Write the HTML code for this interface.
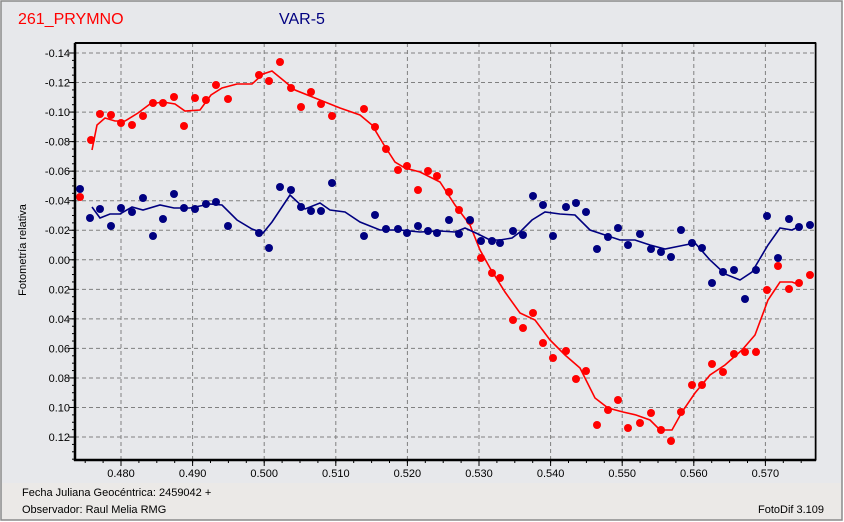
<!DOCTYPE html>
<html><head><meta charset="utf-8"><style>
body{margin:0;background:#fff;}
svg{display:block;font-family:"Liberation Sans",sans-serif;}
</style></head><body>
<svg width="844" height="522" viewBox="0 0 844 522" xmlns="http://www.w3.org/2000/svg">
<rect x="0" y="0" width="844" height="522" fill="#ffffff"/>
<rect x="1" y="1" width="841" height="519" fill="#e7e8eb" stroke="#8a8a8a" stroke-width="1.5"/>
<rect x="2" y="483" width="839" height="36" fill="#ebe9e7"/>
<text x="18" y="24" font-size="16" fill="#ff0000">261_PRYMNO</text>
<text x="279" y="24" font-size="16" fill="#000080">VAR-5</text>
<text transform="translate(26,250) rotate(-90)" font-size="11" text-anchor="middle" fill="#000">Fotometría relativa</text>
<g stroke="#808080" stroke-width="1" stroke-dasharray="4,3" fill="none" id="grid"></g>
<g id="ticks" stroke="#000" stroke-width="1"></g>
<g id="labels" font-size="11" fill="#000"></g>
<polyline id="rl" fill="none" stroke="#ff0000" stroke-width="1.6"/>
<polyline id="bl" fill="none" stroke="#000080" stroke-width="1.6"/>
<g id="rp" fill="#ff0000"></g>
<g id="bp" fill="#000080"></g>
<rect x="75" y="43" width="741" height="417" fill="none" stroke="#000" stroke-width="1"/>
<line x1="75" y1="43" x2="75" y2="461" stroke="#000" stroke-width="2.5"/>
<line x1="74" y1="460" x2="816" y2="460" stroke="#000" stroke-width="2.5"/>
<line x1="75" y1="43" x2="816" y2="43" stroke="#000" stroke-width="2"/>
<line x1="815.5" y1="43" x2="815.5" y2="460" stroke="#000" stroke-width="1.5"/>
<text x="22" y="496" font-size="11" fill="#000">Fecha Juliana Geocéntrica: 2459042 +</text>
<text x="22" y="513" font-size="11" fill="#000">Observador: Raul Melia RMG</text>
<text x="758" y="513" font-size="11" fill="#000">FotoDif 3.109</text>
<script>
var NS="http://www.w3.org/2000/svg";
function el(p,t,a,txt){var e=document.createElementNS(NS,t);for(var k in a)e.setAttribute(k,a[k]);if(txt)e.textContent=txt;document.getElementById(p).appendChild(e);}
// y axis: -0.14 at 53, 0.02 per 29.54
for(var i=0;i<=13;i++){var y=53+i*29.54;var v=(-0.14+i*0.02);
 el("grid","line",{x1:75,y1:y,x2:815,y2:y});
 el("ticks","line",{x1:69,y1:y,x2:75,y2:y});
 var s=v.toFixed(2); if(Math.abs(v)<1e-9)s="0.00";
 el("labels","text",{x:70,y:y+4,"text-anchor":"end"},s);}
for(var y=53-7.385*0;y<460;y+=7.385){el("ticks","line",{x1:72,y1:y,x2:75,y2:y});}
// x axis: 0.480 at 121, 0.01 = 71.6
for(var i=0;i<10;i++){var x=121+i*71.6;
 el("grid","line",{x1:x,y1:43,x2:x,y2:460});
 el("ticks","line",{x1:x,y1:460,x2:x,y2:466});
 el("labels","text",{x:x,y:477,"text-anchor":"middle"},(0.48+i*0.01).toFixed(3));}
for(var x=121-2*17.9;x<815;x+=17.9){if(x>75)el("ticks","line",{x1:x,y1:460,x2:x,y2:463});}
var rp=[[80,197],[91,140],[100,114],[111,115],[121,123],[132,125],[143,116],[153,103],[163,103],[174,97],[184,126],[195,98],[206,100],[216,85],[228,99],[259,75],[269,81],[280,62],[291,88],[301,107],[311,92],[321,104],[332,116],[364,109],[375,127],[386,149],[398,170],[407,166],[418,190],[428,171],[437,176],[449,192],[459,210],[470,221],[481,258],[492,273],[500,278],[513,320],[523,328],[533,313],[543,343],[553,358],[566,351],[576,379],[586,371],[597,425],[608,410],[618,400],[628,428],[640,423],[651,413],[661,430],[671,441],[681,412],[692,385],[702,385],[712,364],[723,372],[734,354],[745,352],[756,352],[767,290],[778,266],[789,289],[799,283],[810,275]];
var bp=[[80,189],[90,218],[100,209],[111,226],[121,208],[132,212],[143,198],[153,236],[163,219],[174,194],[184,208],[195,209],[206,204],[216,202],[228,226],[259,233],[269,248],[280,187],[291,190],[301,207],[311,211],[321,211],[332,183],[364,236],[375,215],[386,229],[398,229],[407,233],[418,226],[428,231],[437,233],[449,220],[459,234],[470,220],[481,241],[492,241],[500,243],[513,231],[523,235],[533,196],[543,205],[553,236],[566,207],[576,203],[586,212],[597,249],[608,237],[618,228],[628,245],[640,234],[651,249],[661,252],[671,257],[681,230],[692,243],[702,248],[712,283],[723,272],[734,270],[745,299],[756,270],[767,216],[778,258],[789,219],[799,227],[810,225]];
var rl=[[92,150],[97,125],[105,118],[115,121],[125,121],[138,113],[150,104],[163,102],[175,104],[185,111],[200,110],[211,95],[222,88],[237,84],[252,84],[263,74],[272,71],[283,80],[295,90],[320,100],[340,108],[360,115],[372,125],[384,145],[395,162],[405,168],[420,172],[440,182],[455,205],[470,225],[480,250],[490,268],[505,292],[520,313],[535,320],[550,340],[565,355],[580,368],[595,398],[608,408],[623,412],[636,415],[650,420],[660,430],[672,430],[682,412],[695,393],[710,375],[725,365],[742,350],[755,335],[768,300],[780,282],[792,282],[800,285]];
var bl=[[92,207],[100,218],[110,214],[120,214],[132,207],[143,210],[160,205],[174,208],[190,208],[210,204],[222,205],[237,220],[252,229],[263,233],[272,222],[290,195],[305,209],[320,203],[330,210],[345,212],[360,222],[380,230],[400,230],[420,232],[440,231],[455,232],[465,228],[478,234],[490,240],[500,240],[512,238],[520,232],[532,220],[545,212],[560,214],[575,215],[590,230],[605,235],[620,240],[635,240],[650,245],[665,249],[680,246],[695,243],[710,260],[725,274],[740,280],[752,272],[768,245],[780,228],[792,230],[800,226]];
document.getElementById("rl").setAttribute("points",rl.join(" "));
document.getElementById("bl").setAttribute("points",bl.join(" "));
rp.forEach(function(p){el("rp","circle",{cx:p[0],cy:p[1],r:4});});
bp.forEach(function(p){el("bp","circle",{cx:p[0],cy:p[1],r:4});});
</script>
</svg>
</body></html>
